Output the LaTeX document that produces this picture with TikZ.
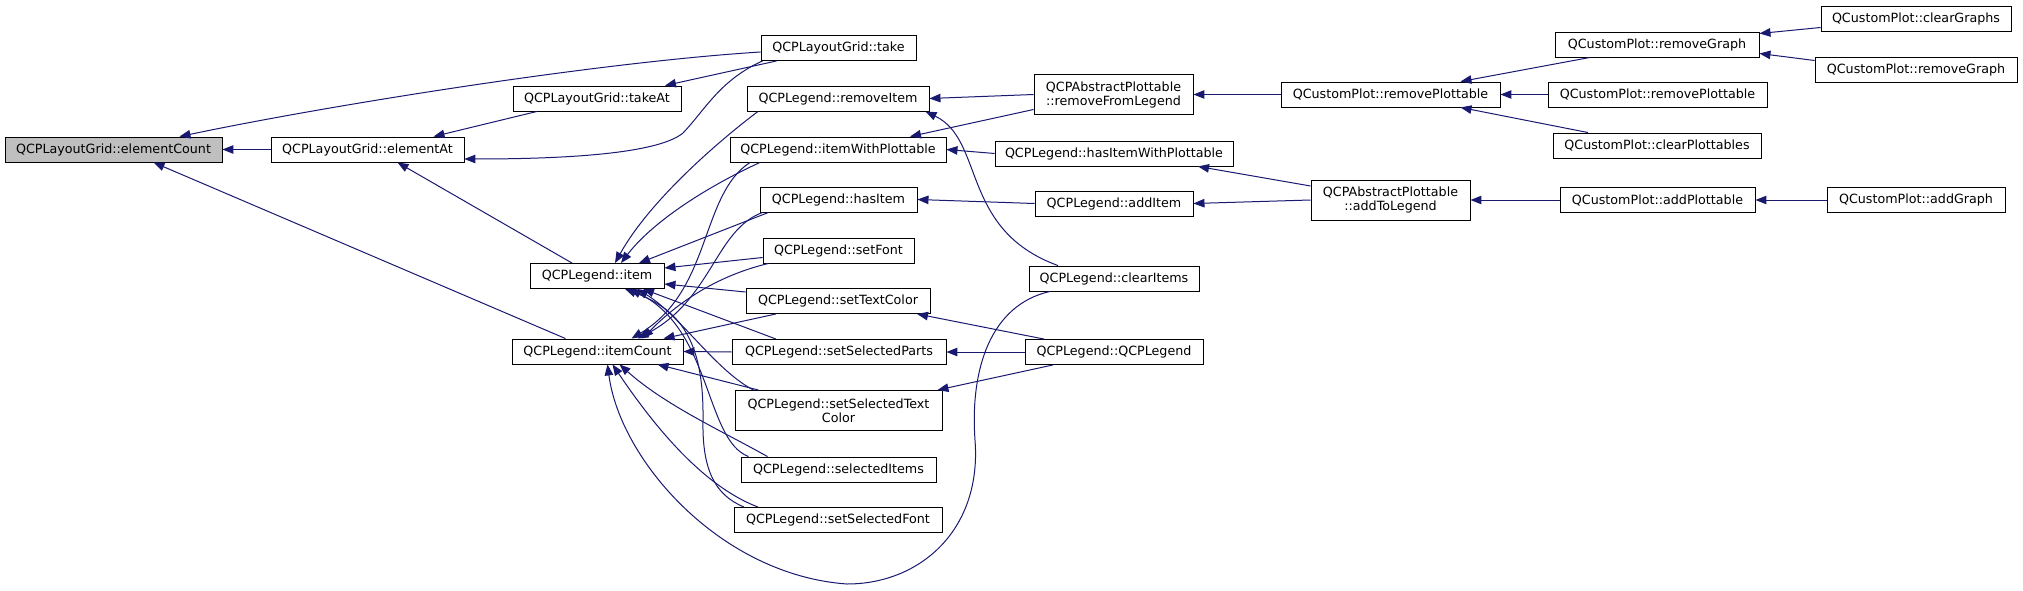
\documentclass[tikz,border=0pt]{standalone}
\usepackage{fontspec}
\setmainfont{DejaVu Sans}
\usepackage{tikz}
\usetikzlibrary{arrows.meta,positioning,calc}
\definecolor{edgeblue}{HTML}{191970}
\definecolor{rootgray}{HTML}{BFBFBF}

\begin{document}
\begin{tikzpicture}[
  x=1pt,y=-1pt,
  fn/.style={draw=black,line width=0.9pt,fill=white,align=center,inner sep=0pt,
    minimum height=25pt,font=\fontsize{12.7}{14}\selectfont},
  tall/.style={fn,minimum height=40pt},
  root/.style={fn,fill=rootgray},
  arr/.style={-{Triangle[length=11pt,width=8.5pt]},line width=1pt,draw=edgeblue}
]
\useasboundingbox[fill=white] (0,0) rectangle (2023,591);

\node[root,minimum width=217pt] (elementCount) at (113.5,149.5) {QCPLayoutGrid::elementCount};
\node[fn,minimum width=193pt] (elementAt) at (367.5,149.5) {QCPLayoutGrid::elementAt};
\node[fn,minimum width=168pt] (takeAt) at (597,98.5) {QCPLayoutGrid::takeAt};
\node[fn,minimum width=155pt] (take) at (838.5,48) {QCPLayoutGrid::take};
\node[fn,minimum width=134pt] (item) at (597,276) {QCPLegend::item};
\node[fn,minimum width=171pt] (itemCount) at (597.5,351.5) {QCPLegend::itemCount};

\node[fn,minimum width=182pt] (removeItem) at (838,98.5) {QCPLegend::removeItem};
\node[fn,minimum width=216pt] (itemWithPlottable) at (838,149.5) {QCPLegend::itemWithPlottable};
\node[fn,minimum width=157pt] (hasItem) at (838.5,199.5) {QCPLegend::hasItem};
\node[fn,minimum width=151pt] (setFont) at (838.5,250.5) {QCPLegend::setFont};
\node[fn,minimum width=184pt] (setTextColor) at (838,301) {QCPLegend::setTextColor};
\node[fn,minimum width=214pt] (setSelectedParts) at (839,352) {QCPLegend::setSelectedParts};
\node[tall,minimum width=207pt] (setSelectedTextColor) at (838.5,410.5) {QCPLegend::setSelectedText\\Color};
\node[fn,minimum width=195pt] (selectedItems) at (838.5,469.5) {QCPLegend::selectedItems};
\node[fn,minimum width=208pt] (setSelectedFont) at (838,520) {QCPLegend::setSelectedFont};

\node[tall,minimum width=159pt] (removeFromLegend) at (1113.5,94.5) {QCPAbstractPlottable\\::removeFromLegend};
\node[fn,minimum width=238pt] (hasItemWithPlottable) at (1114,153.5) {QCPLegend::hasItemWithPlottable};
\node[fn,minimum width=158pt] (addItem) at (1114,203.5) {QCPLegend::addItem};
\node[fn,minimum width=170pt] (clearItems) at (1114,278.5) {QCPLegend::clearItems};
\node[fn,minimum width=178pt] (qcpLegend) at (1114,352) {QCPLegend::QCPLegend};

\node[fn,minimum width=219pt] (cpRemovePlottable) at (1390.5,94.5) {QCustomPlot::removePlottable};
\node[tall,minimum width=159pt] (addToLegend) at (1390.5,200) {QCPAbstractPlottable\\::addToLegend};

\node[fn,minimum width=204pt] (removeGraph) at (1657,44.5) {QCustomPlot::removeGraph};
\node[fn,minimum width=219pt] (removePlottable) at (1657.5,94.5) {QCustomPlot::removePlottable};
\node[fn,minimum width=208pt] (clearPlottables) at (1657,145.5) {QCustomPlot::clearPlottables};
\node[fn,minimum width=195pt] (addPlottable) at (1657.5,200) {QCustomPlot::addPlottable};

\node[fn,minimum width=190pt] (clearGraphs) at (1916,18.5) {QCustomPlot::clearGraphs};
\node[fn,minimum width=202pt] (removeGraph2) at (1916,69.5) {QCustomPlot::removeGraph};
\node[fn,minimum width=178pt] (addGraph) at (1916,200) {QCustomPlot::addGraph};

\draw[arr] (elementAt.west)--(elementCount.east);
\draw[arr] ([yshift=-4pt]take.west) .. controls (600,62) and (330,105) .. ([xshift=66pt]elementCount.north);
\draw[arr] ([xshift=-32pt]itemCount.north)--([xshift=40pt]elementCount.south);
\draw[arr] ([xshift=-60pt]takeAt.south)--([xshift=66pt]elementAt.north);
\draw[arr] ([xshift=-62pt]take.south)--([xshift=68pt]takeAt.north);
\draw[arr] ([xshift=2pt]take.south west) .. controls (720,80) and (705,110) .. (683,133)
  .. controls (660,152) and (580,159) .. ([yshift=-9.5pt]elementAt.east);
\draw[arr] ([xshift=-25pt]item.north)--([xshift=30pt]elementAt.south);

\draw[arr] ([xshift=-80pt]removeItem.south) .. controls (720,140) and (650,200) .. ([xshift=18pt]item.north);
\draw[arr] ([xshift=-78pt]itemWithPlottable.south) .. controls (700,190) and (650,225) .. ([xshift=24pt]item.north);
\draw[arr] ([xshift=-70pt]hasItem.south)--([xshift=42pt]item.north);
\draw[arr] ([yshift=-7pt]setFont.west)--([yshift=8pt]item.east);
\draw[arr] ([yshift=9pt]setTextColor.west)--([yshift=-8pt]item.east);
\draw[arr] ([xshift=-63pt]setSelectedParts.north)--([xshift=46pt]item.south);
\draw[arr] ([xshift=-85pt]setSelectedTextColor.north) .. controls (715,370) and (680,315) .. ([xshift=40pt]item.south);
\draw[arr] ([xshift=-90pt]selectedItems.north) .. controls (705,440) and (712,330) .. ([xshift=33pt]item.south);
\draw[arr] ([xshift=-94pt]setSelectedFont.north) .. controls (715,495) and (702,470) .. (703,420)
  .. controls (704,340) and (680,310) .. ([xshift=28pt]item.south);

\draw[arr] ([xshift=-88pt]itemWithPlottable.south) .. controls (700,195) and (712,290) .. ([xshift=34pt]itemCount.north);
\draw[arr] ([xshift=-76pt]hasItem.south) .. controls (715,230) and (712,300) .. ([xshift=40pt]itemCount.north);
\draw[arr] ([xshift=-70pt]setFont.south) .. controls (720,275) and (680,300) .. ([xshift=45pt]itemCount.north);
\draw[arr] ([xshift=-62pt]setTextColor.south)--([xshift=66pt]itemCount.north);
\draw[arr] (setSelectedParts.west)--(itemCount.east);
\draw[arr] ([xshift=-80pt]setSelectedTextColor.north)--([xshift=60pt]itemCount.south);
\draw[arr] ([xshift=-71pt]selectedItems.north) .. controls (720,430) and (665,405) .. ([xshift=22pt]itemCount.south);
\draw[arr] ([xshift=-80pt]setSelectedFont.north) .. controls (700,485) and (650,420) .. ([xshift=15pt]itemCount.south);
\draw[arr] ([xshift=-64pt]clearItems.south) .. controls (990,305) and (970,370) .. (975,440)
  .. controls (982,530) and (920,584) .. (847,584)
  .. controls (720,575) and (620,460) .. ([xshift=10pt]itemCount.south);
\draw[arr] ([xshift=-56pt]clearItems.north) .. controls (960,230) and (985,140) .. ([xshift=-4pt]removeItem.south east);

\draw[arr] (removeFromLegend.west)--(removeItem.east);
\draw[arr] ([yshift=-15pt]removeFromLegend.west)--([xshift=72pt]itemWithPlottable.north);
\draw[arr] (hasItemWithPlottable.west)--(itemWithPlottable.east);
\draw[arr] (addItem.west)--(hasItem.east);
\draw[arr] ([yshift=14pt]addToLegend.west)--([xshift=84pt]hasItemWithPlottable.south);
\draw[arr] (addToLegend.west)--(addItem.east);
\draw[arr] (cpRemovePlottable.west)--(removeFromLegend.east);
\draw[arr] ([xshift=-67pt]removeGraph.south)--([xshift=70pt]cpRemovePlottable.north);
\draw[arr] (removePlottable.west)--(cpRemovePlottable.east);
\draw[arr] ([xshift=-69pt]clearPlottables.north)--([xshift=70pt]cpRemovePlottable.south);
\draw[arr] ([yshift=-9pt]clearGraphs.west)--([yshift=11pt]removeGraph.east);
\draw[arr] ([yshift=9pt]removeGraph2.west)--([yshift=-9pt]removeGraph.east);
\draw[arr] (addPlottable.west)--(addToLegend.east);
\draw[arr] (addGraph.west)--(addPlottable.east);
\draw[arr] ([xshift=-70pt]qcpLegend.north)--([xshift=79pt]setTextColor.south);
\draw[arr] (qcpLegend.west)--(setSelectedParts.east);
\draw[arr] ([xshift=-61pt]qcpLegend.south)--([xshift=-5pt]setSelectedTextColor.north east);
\end{tikzpicture}
\end{document}
